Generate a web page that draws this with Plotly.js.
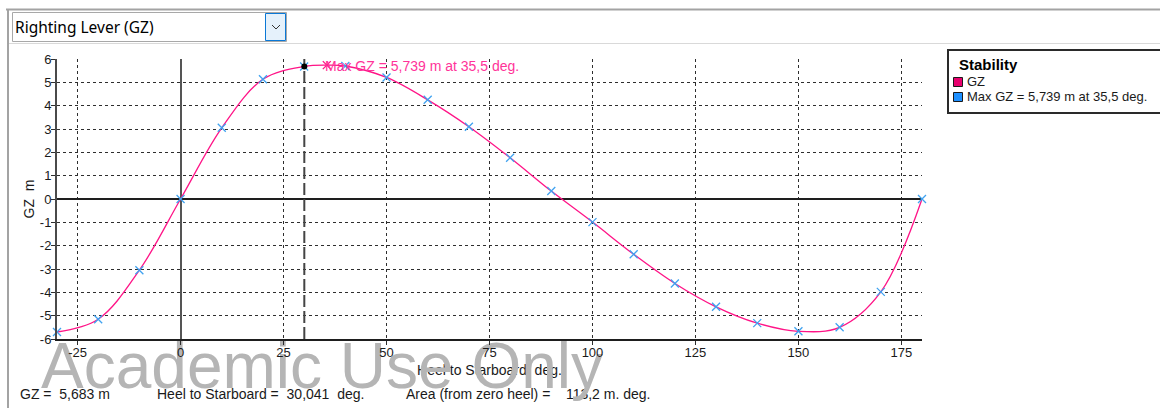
<!DOCTYPE html>
<html>
<head>
<meta charset="utf-8">
<script src="https://cdn.plot.ly/plotly-3.0.1.min.js"></script>
<style>
  html, body { margin: 0; padding: 0; background: #ffffff; }
  #chart { width: 1160px; height: 408px; }
</style>
</head>
<body>
<div id="chart"></div>
<script>
// ---- data ----
const markerHeel = [-30, -20, -10, 0, 10, 20, 30, 40, 50, 60, 70, 80, 90, 100, 110, 120, 130, 140, 150, 160, 170, 180];
const markerGZ   = [-5.70, -5.15, -3.05, 0.00, 3.05, 5.13, 5.68, 5.70, 5.21, 4.25, 3.10, 1.77, 0.34, -0.99, -2.37, -3.62, -4.62, -5.32, -5.67, -5.50, -3.98, 0.00];
const maxHeel = 35.5;
const maxGZ = 5.739;
const cursorHeel = 30.041;
const cursorGZ = 5.683;
const areaValue = "113,2";
const xTickVals = [-25, 0, 25, 50, 75, 100, 125, 150, 175];
const yTickVals = [-6, -5, -4, -3, -2, -1, 0, 1, 2, 3, 4, 5, 6];

// curve points = markers plus the max point
const curveHeel = [];
const curveGZ = [];
markerHeel.forEach((h, i) => {
  if (i > 0 && markerHeel[i - 1] < maxHeel && h > maxHeel) { curveHeel.push(maxHeel); curveGZ.push(maxGZ); }
  curveHeel.push(h); curveGZ.push(markerGZ[i]);
});

// ---- layout helpers (pixel -> paper) ----
const L = 57, R = 922, T = 59, B = 339, W = 1160, H = 408;
const px = x => (x - L) / (R - L);
const py = y => (B - y) / (B - T);
const FONT = "Liberation Sans, Arial, sans-serif";
const PINK = "#ff1487";

const traces = [
  { x: curveHeel, y: curveGZ, type: "scatter", mode: "lines", line: { color: PINK, width: 1.3, shape: "spline", smoothing: 1 }, hoverinfo: "skip", showlegend: false, cliponaxis: false },
  { x: markerHeel, y: markerGZ, type: "scatter", mode: "markers", marker: { symbol: "x-thin", size: 8, line: { color: "#3fa2f0", width: 1.3 } }, hoverinfo: "skip", showlegend: false, cliponaxis: false },
  { x: [maxHeel], y: [maxGZ], type: "scatter", mode: "markers", marker: { symbol: "x-thin", size: 8, line: { color: PINK, width: 1.3 } }, hoverinfo: "skip", showlegend: false, cliponaxis: false },
  { x: [cursorHeel], y: [cursorGZ], type: "scatter", mode: "markers", marker: { symbol: "circle", size: 6, color: "#000000" }, hoverinfo: "skip", showlegend: false, cliponaxis: false }
];

const rect = (x0, y0, x1, y1, lineColor, lw, fill) => ({ type: "rect", xref: "paper", yref: "paper", x0: px(x0), x1: px(x1), y0: py(y1), y1: py(y0), line: { color: lineColor, width: lw }, fillcolor: fill, layer: "above" });
const hline = (x0, x1, y, c, w) => ({ type: "line", xref: "paper", yref: "paper", x0: px(x0), x1: px(x1), y0: py(y), y1: py(y), line: { color: c, width: w } });
const vline = (x, y0, y1, c, w) => ({ type: "line", xref: "paper", yref: "paper", x0: px(x), x1: px(x), y0: py(y0), y1: py(y1), line: { color: c, width: w } });

const shapes = [
  hline(6, 1160, 9.5, "#a3a3a3", 2),
  vline(8, 9, 408, "#a3a3a3", 2),
  hline(9, 1160, 43.5, "#d9d9d9", 1),
  rect(12.5, 12.5, 286.5, 41.5, "#a8a8a8", 1, "#ffffff"),
  rect(265.5, 13.5, 285.5, 40.5, "#0a78d6", 1, "#e5f1fb"),
  { type: "path", xref: "paper", yref: "paper", path: `M ${px(272)},${py(25)} L ${px(276)},${py(29)} L ${px(280)},${py(25)}`, line: { color: "#333333", width: 1 } },
  rect(948, 50, 1175, 113, "#2a2a2a", 2, "#ffffff"),
  rect(953.5, 77.5, 962.5, 86.5, "#1a1a1a", 1, "#e8006e"),
  rect(953.5, 92.5, 962.5, 101.5, "#1a1a1a", 1, "#1e90ff"),
  { type: "line", xref: "x", yref: "y", x0: cursorHeel, x1: cursorHeel, y0: -6, y1: 6, line: { color: "#444444", width: 2, dash: "12px,4px" }, layer: "between" }
];

const ann = (x, y, text, opts) => Object.assign({ xref: "paper", yref: "paper", x: px(x), y: py(y), xshift: -3, text: text, showarrow: false, xanchor: "left", yanchor: "middle", font: { family: FONT, size: 14, color: "#1a1a1a" } }, opts || {});
const nb = s => s.replace(/ /g, "\u00a0");

const annotations = [
  { xref: "x", yref: "y", x: maxHeel, y: maxGZ, xshift: -4, yshift: -1, text: nb("Max GZ = 5,739 m at 35,5 deg."), showarrow: false, xanchor: "left", yanchor: "middle", font: { family: FONT, size: 14, color: "#ff3399" } },
  ann(16, 27, "Righting Lever (GZ)", { font: { family: "Noto Sans, sans-serif", size: 15.5, color: "#000000" } }),
  ann(960, 64, "<b>Stability</b>", { font: { family: FONT, size: 15, color: "#000000" } }),
  ann(968, 81, "GZ", { font: { family: FONT, size: 13, color: "#1a1a1a" } }),
  ann(968, 97, nb("Max GZ = 5,739 m at 35,5 deg."), { font: { family: FONT, size: 13, color: "#1a1a1a" } }),
  ann(21, 394, nb("GZ =  " + cursorGZ.toFixed(3).replace(".", ",") + " m")),
  ann(158, 394, nb("Heel to Starboard =  " + cursorHeel.toFixed(3).replace(".", ",") + "  deg.")),
  ann(407, 394, nb("Area (from zero heel) =    " + areaValue + " m. deg.")),
  ann(42, 366, "Academic Use Only", { font: { family: FONT, size: 64, color: "#b5b5b5" } })
];

const layout = {
  width: W, height: H,
  margin: { l: L, r: W - R, t: T, b: H - B, pad: 0 },
  paper_bgcolor: "#ffffff", plot_bgcolor: "#ffffff",
  showlegend: false,
  font: { family: FONT, size: 13, color: "#1a1a1a" },
  xaxis: {
    range: [-30, 180], tickvals: xTickVals, ticktext: xTickVals.map(String),
    showgrid: true, gridcolor: "#2e2e2e", gridwidth: 1, griddash: "3px,3px",
    zeroline: true, zerolinecolor: "#555555", zerolinewidth: 2,
    showline: true, linecolor: "#1e1e1e", linewidth: 1.5,
    ticks: "outside", ticklen: 4, tickcolor: "#2e2e2e",
    ticklabelstandoff: -3,
    tickfont: { family: FONT, size: 13, color: "#1a1a1a" },
    title: { text: nb("Heel to Starboard  deg."), font: { family: FONT, size: 14, color: "#1a1a1a" }, standoff: 6 },
    fixedrange: true, automargin: false
  },
  yaxis: {
    range: [-6, 6], tickvals: yTickVals, ticktext: yTickVals.map(String),
    showgrid: true, gridcolor: "#2e2e2e", gridwidth: 1, griddash: "3px,3px",
    zeroline: true, zerolinecolor: "#1e1e1e", zerolinewidth: 1.5,
    showline: true, linecolor: "#4a4a4a", linewidth: 2,
    ticks: "outside", ticklen: 4, tickcolor: "#2e2e2e",
    ticklabelstandoff: -3,
    tickfont: { family: FONT, size: 13, color: "#1a1a1a" },
    title: { text: nb("GZ  m"), font: { family: FONT, size: 14, color: "#1a1a1a" }, standoff: 2 },
    fixedrange: true, automargin: false
  },
  shapes: shapes,
  annotations: annotations
};

Plotly.newPlot("chart", traces, layout, { staticPlot: true, displayModeBar: false }).then(gd => {
  // tick labels of the heel axis sit above the watermark, as in the reference
  const svgs = gd.querySelectorAll(".main-svg");
  const top = svgs[svgs.length - 1];
  const xl = gd.querySelector(".xaxislayer-above");
  if (xl && top) top.appendChild(xl);
});
</script>
</body>
</html>
